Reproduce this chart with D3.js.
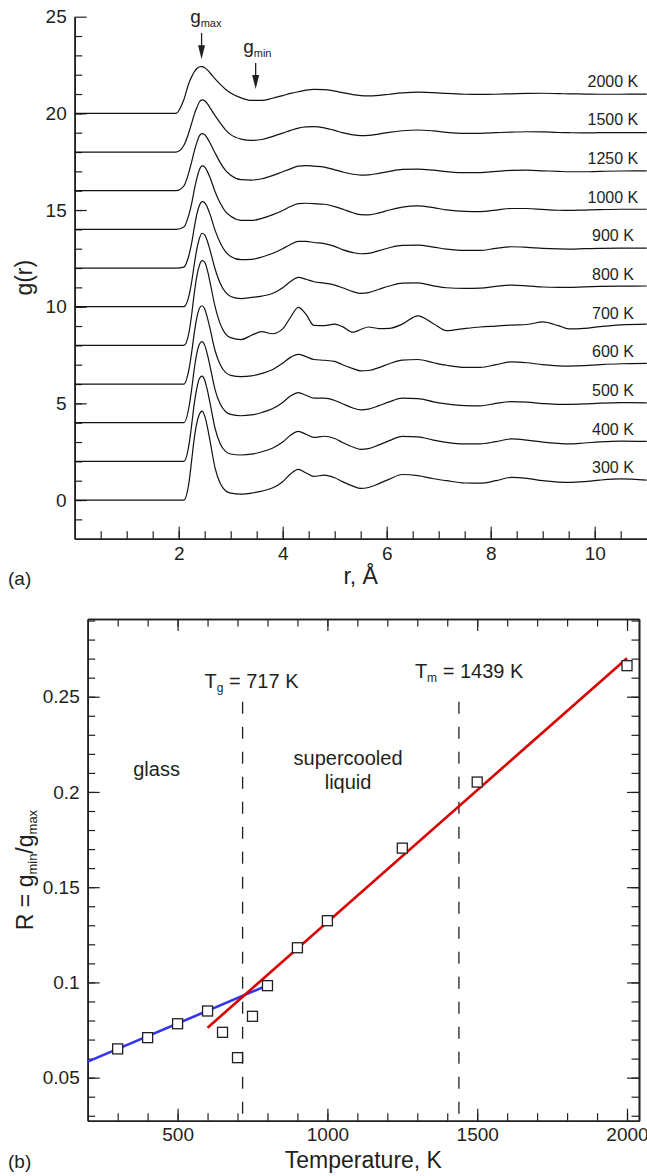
<!DOCTYPE html>
<html>
<head>
<meta charset="utf-8">
<script src="https://cdn.jsdelivr.net/npm/d3@7"></script>
<style>
  body { margin: 0; background: #fff; }
  svg { display: block; font-family: "Liberation Sans", Arial, sans-serif; }
  .axis path, .axis line { stroke: #231f20; }
  .axis path { stroke-width: 1.6; }
  .axis line { stroke-width: 1.2; }
  .axis text { fill: #231f20; font-size: 19px; font-family: "Liberation Sans", Arial, sans-serif; }
</style>
</head>
<body>
<svg id="chart" width="647" height="1176"></svg>
<script>
// ---- panel (a): g(r) curves, each shifted up by 2 ----
const rGrid = [0, 1.95, 2.1, 2.2, 2.25, 2.3, 2.35, 2.4, 2.45, 2.5,
    2.55, 2.6, 2.7, 2.8, 2.9, 3.0, 3.2, 3.4, 3.6, 3.8,
    4.0, 4.15, 4.3, 4.45, 4.6, 4.8, 5.0, 5.15, 5.35, 5.5,
    5.65, 5.85, 6.05, 6.3, 6.6, 6.9, 7.15, 7.5, 7.8, 8.1,
    8.4, 8.7, 9.0, 9.3, 9.5, 9.8, 10.1, 10.5, 11.0];

const g300 = [0, 0, 0, 0.95, 2.07, 3.2, 4.0, 4.45, 4.6, 4.35,
    3.8, 3.1, 1.65, 0.85, 0.48, 0.36, 0.31, 0.36, 0.46, 0.62,
    0.95, 1.35, 1.59, 1.4, 1.22, 1.29, 1.15, 0.95, 0.72, 0.6,
    0.65, 0.85, 1.08, 1.32, 1.26, 1.1, 1.0, 0.88, 0.87, 1.0,
    1.17, 1.12, 1.0, 0.93, 0.91, 0.95, 1.03, 1.09, 1.03];
const g400 = [0, 0, 0, 0.9, 1.9, 3.0, 3.8, 4.3, 4.41, 4.2,
    3.7, 3.05, 1.7, 0.9, 0.52, 0.38, 0.33, 0.37, 0.5, 0.68,
    1.0, 1.35, 1.55, 1.4, 1.24, 1.3, 1.18, 0.98, 0.74, 0.62,
    0.66, 0.85, 1.07, 1.29, 1.27, 1.1, 0.98, 0.9, 0.9, 1.02,
    1.16, 1.1, 1.0, 0.93, 0.9, 0.95, 1.01, 1.05, 1.03];
const g500 = [0, 0, 0, 0.85, 1.75, 2.8, 3.6, 4.07, 4.19, 4.0,
    3.55, 2.95, 1.7, 0.95, 0.58, 0.43, 0.36, 0.4, 0.53, 0.72,
    1.05, 1.38, 1.56, 1.42, 1.27, 1.27, 1.15, 0.98, 0.76, 0.66,
    0.7, 0.88, 1.08, 1.27, 1.25, 1.08, 0.97, 0.88, 0.87, 1.0,
    1.09, 1.06, 0.99, 0.95, 0.95, 0.97, 1.01, 1.04, 1.03];
const g600 = [0, 0, 0, 0.8, 1.65, 2.65, 3.45, 3.92, 4.05, 3.88,
    3.45, 2.9, 1.72, 1.0, 0.6, 0.45, 0.38, 0.42, 0.55, 0.74,
    1.08, 1.38, 1.53, 1.42, 1.27, 1.23, 1.17, 1.0, 0.8, 0.68,
    0.7, 0.85, 1.05, 1.24, 1.27, 1.1, 0.97, 0.86, 0.86, 1.0,
    1.15, 1.1, 1.0, 0.94, 0.93, 0.95, 1.0, 1.05, 1.07];
const g700 = [0, 0, 0, 0.7, 1.6, 2.7, 3.6, 4.15, 4.38, 4.3,
    3.9, 3.3, 2.0, 1.1, 0.6, 0.4, 0.3, 0.52, 0.71, 0.6,
    0.85, 1.45, 1.97, 1.6, 1.03, 1.02, 1.1, 0.97, 0.68, 0.82,
    0.95, 0.87, 0.88, 1.1, 1.53, 1.12, 0.76, 0.87, 0.95, 1.0,
    1.05, 1.08, 1.21, 1.02, 0.85, 0.88, 0.97, 1.06, 1.1];
const g800 = [0, 0, 0, 0.6, 1.3, 2.2, 3.0, 3.55, 3.8, 3.72,
    3.4, 2.95, 1.95, 1.2, 0.75, 0.53, 0.42, 0.48, 0.55, 0.68,
    0.98, 1.3, 1.52, 1.42, 1.29, 1.22, 1.12, 0.98, 0.78, 0.69,
    0.73, 0.9, 1.07, 1.22, 1.23, 1.08, 0.98, 0.95, 0.96, 1.05,
    1.12, 1.08, 1.02, 1.0, 1.0, 1.03, 1.05, 1.06, 1.07];
const g900 = [0, 0, 0.05, 0.7, 1.3, 2.1, 2.8, 3.25, 3.43, 3.38,
    3.15, 2.8, 1.95, 1.3, 0.85, 0.6, 0.43, 0.45, 0.57, 0.75,
    1.0, 1.22, 1.38, 1.38, 1.32, 1.26, 1.12, 0.95, 0.8, 0.74,
    0.76, 0.9, 1.05, 1.17, 1.18, 1.08, 0.98, 0.91, 0.91, 1.02,
    1.1, 1.07, 1.02, 0.99, 0.98, 1.0, 1.02, 1.03, 1.03];
const g1000 = [0, 0, 0.12, 0.8, 1.35, 2.05, 2.65, 3.1, 3.28, 3.22,
    3.0, 2.7, 1.95, 1.35, 0.92, 0.68, 0.47, 0.46, 0.57, 0.75,
    0.98, 1.18, 1.33, 1.35, 1.33, 1.3, 1.18, 1.05, 0.86, 0.76,
    0.75, 0.85, 1.0, 1.15, 1.21, 1.12, 1.01, 0.93, 0.92, 1.0,
    1.08, 1.08, 1.03, 0.99, 0.98, 1.0, 1.02, 1.04, 1.04];
const g1250 = [0, 0, 0.25, 1.0, 1.5, 2.05, 2.5, 2.85, 2.95, 2.9,
    2.72, 2.48, 1.95, 1.45, 1.05, 0.8, 0.57, 0.55, 0.62, 0.78,
    0.98, 1.13, 1.27, 1.3, 1.27, 1.22, 1.08, 0.97, 0.85, 0.81,
    0.82, 0.9, 1.0, 1.1, 1.12, 1.06, 0.99, 0.93, 0.94, 1.0,
    1.05, 1.06, 1.03, 1.0, 0.98, 0.98, 1.0, 1.02, 1.03];
const g1500 = [0, 0, 0.35, 1.05, 1.5, 1.95, 2.3, 2.6, 2.7, 2.65,
    2.5, 2.3, 1.88, 1.5, 1.15, 0.9, 0.67, 0.6, 0.65, 0.8,
    0.98, 1.12, 1.24, 1.3, 1.31, 1.25, 1.12, 1.0, 0.89, 0.85,
    0.86, 0.93, 1.02, 1.1, 1.14, 1.09, 1.02, 0.97, 0.97, 1.0,
    1.03, 1.05, 1.04, 1.01, 1.0, 0.99, 1.0, 1.0, 1.0];
const g2000 = [0, 0, 0.72, 1.6, 1.9, 2.15, 2.32, 2.41, 2.42, 2.36,
    2.25, 2.1, 1.78, 1.5, 1.25, 1.05, 0.8, 0.67, 0.67, 0.78,
    0.92, 1.03, 1.12, 1.2, 1.24, 1.23, 1.15, 1.07, 0.97, 0.92,
    0.9, 0.93, 0.99, 1.06, 1.1, 1.07, 1.03, 0.99, 0.98, 0.99,
    1.01, 1.03, 1.04, 1.02, 1.01, 1.0, 0.99, 0.99, 1.0];

const curveTemps = [300, 400, 500, 600, 700, 800, 900, 1000, 1250, 1500, 2000];
const curveValues = [g300, g400, g500, g600, g700, g800, g900, g1000, g1250, g1500, g2000];
const curveShift = 2;

const rMajor = [2, 4, 6, 8, 10];
const gMajor = [0, 5, 10, 15, 20, 25];

// ---- panel (b): R = gmin/gmax vs temperature ----
const tempPts = [300, 400, 500, 600, 650, 700, 750, 800, 900, 1000, 1250, 1500, 2000];
const ratioPts = [0.0651, 0.0710, 0.0783, 0.0850, 0.0738, 0.0605, 0.0822, 0.0983, 0.1182, 0.1324, 0.1705, 0.2052, 0.2663];
const glassFitT = [200, 790];
const glassFitR = [0.0584, 0.0978];
const liquidFitT = [600, 2000];
const liquidFitR = [0.0762, 0.2702];
const tG = 717, tM = 1439;
const tMajor = [500, 1000, 1500, 2000];
const rMajorB = [0.05, 0.1, 0.15, 0.2, 0.25];

const ink = '#231f20';
let svg = d3.select('#chart');

// axis with minor + major inward ticks
const tickAxis = function(gen, scale, pos, minorVals, majorVals, pad, labels){
    let minor = gen(scale).tickValues(minorVals).tickSize(-7.5).tickSizeOuter(0).tickFormat('');
    let major = gen(scale).tickValues(majorVals).tickSize(-12).tickSizeOuter(0).tickPadding(pad)
        .tickFormat(labels ? function(d){ return d } : '');
    svg.append('g').attr('class', 'axis').attr('transform', pos).call(minor);
    svg.append('g').attr('class', 'axis').attr('transform', pos).call(major);
};

// ===== panel (a) =====
var xR = d3.scaleLinear().domain([0, 11]).range([74.7, 646.7]);
var yG = d3.scaleLinear().domain([-2, 25]).range([538.7, 16.7]);

tickAxis(d3.axisLeft, yG, 'translate(74.7,0)', d3.range(-1, 25, 1), gMajor, 8, true);
tickAxis(d3.axisBottom, xR, 'translate(0,538.7)', d3.range(0.5, 11, 0.5), rMajor, 8, true);

curveValues.forEach(function(vals, i){
    let shift = i * curveShift;
    let pts = rGrid.map(function(r, j){ return {r: r, g: vals[j] + shift} });
    let line = d3.line()
        .x(function(d){ return xR(d.r) })
        .y(function(d){ return yG(d.g) })
        .curve(d3.curveMonotoneX);
    svg.append('path')
        .datum(pts)
        .attr('d', line)
        .attr('fill', 'none')
        .attr('stroke', '#111')
        .attr('stroke-width', 1.2);
    svg.append('text')
        .attr('x', xR(10.35))
        .attr('y', yG(shift + 1.67))
        .attr('dy', '0.35em')
        .attr('text-anchor', 'middle')
        .style('font-size', '16px')
        .attr('fill', ink)
        .text(curveTemps[i] + ' K');
});

// gmax / gmin arrows
const arrow = function(r, yTop, yTip){
    let x = xR(r), y0 = yG(yTop), y1 = yG(yTip);
    svg.append('line').attr('x1', x).attr('x2', x).attr('y1', y0).attr('y2', y1 - 12)
        .attr('stroke', ink).attr('stroke-width', 1.3);
    svg.append('path')
        .attr('d', 'M' + (x - 3.5) + ',' + (y1 - 14) + 'L' + (x + 3.5) + ',' + (y1 - 14) + 'L' + x + ',' + y1 + 'Z')
        .attr('fill', ink);
};
arrow(2.44, 24.16, 22.8);
arrow(3.48, 22.6, 21.26);

const subLabel = function(x, y, main, sub, size, subSize){
    let t = svg.append('text').attr('x', x).attr('y', y).attr('fill', ink).style('font-size', size + 'px');
    t.append('tspan').text(main);
    t.append('tspan').attr('dy', 4).style('font-size', subSize + 'px').text(sub);
    return t;
};
subLabel(xR(2.22), yG(24.68), 'g', 'max', 19, 11);
subLabel(xR(3.24), yG(23.12), 'g', 'min', 19, 11);

svg.append('text').attr('transform', 'translate(32,' + yG(11.5) + ') rotate(-90)')
    .attr('text-anchor', 'middle').style('font-size', '23px').attr('fill', ink).text('g(r)');
svg.append('text').attr('x', xR(5.5)).attr('y', 584)
    .attr('text-anchor', 'middle').style('font-size', '23px').attr('fill', ink).text('r, Å');
svg.append('text').attr('x', 8).attr('y', 585).style('font-size', '19px').attr('fill', ink).text('(a)');

// ===== panel (b) =====
var xT = d3.scaleLinear().domain([200, 2040]).range([87.7, 639]);
var yR = d3.scaleLinear().domain([0.0274, 0.2908]).range([1120.7, 619]);

let tMinor = d3.range(300, 2001, 100);
let rMinor = d3.range(3, 30).map(function(d){ return d / 100 });
tickAxis(d3.axisBottom, xT, 'translate(0,1120.7)', tMinor, tMajor, 7, true);
tickAxis(d3.axisTop, xT, 'translate(0,619)', tMinor, tMajor, 7, false);
tickAxis(d3.axisLeft, yR, 'translate(87.7,0)', rMinor, rMajorB, 8, true);
tickAxis(d3.axisRight, yR, 'translate(639,0)', rMinor, rMajorB, 8, false);

// Tg and Tm dashed markers
[tG, tM].forEach(function(t){
    svg.append('line')
        .attr('x1', xT(t)).attr('x2', xT(t))
        .attr('y1', yR(0.2474)).attr('y2', yR(0.0274))
        .attr('stroke', ink).attr('stroke-width', 1.3)
        .attr('stroke-dasharray', '12,13');
});

let fitLine = d3.line()
    .x(function(d){ return xT(d[0]) })
    .y(function(d){ return yR(d[1]) });
svg.append('path').datum(d3.zip(glassFitT, glassFitR)).attr('d', fitLine)
    .attr('fill', 'none').attr('stroke', '#3434f2').attr('stroke-width', 2.6);
svg.append('path').datum(d3.zip(liquidFitT, liquidFitR)).attr('d', fitLine)
    .attr('fill', 'none').attr('stroke', '#d90000').attr('stroke-width', 2.6);

svg.selectAll('.pt')
    .data(d3.zip(tempPts, ratioPts))
    .enter()
    .append('rect')
    .attr('class', 'pt')
    .attr('x', function(d){ return xT(d[0]) - 5 })
    .attr('y', function(d){ return yR(d[1]) - 5 })
    .attr('width', 10).attr('height', 10)
    .attr('fill', '#fff').attr('stroke', ink).attr('stroke-width', 1.3);

// text labels
let tgLab = subLabel(xT(590), yR(0.2546), 'T', 'g', 20, 12);
tgLab.append('tspan').attr('dy', -4).text(' = 717 K');
let tmLab = subLabel(xT(1292), yR(0.2598), 'T', 'm', 20, 12);
tmLab.append('tspan').attr('dy', -4).text(' = 1439 K');

svg.append('text').attr('x', xT(430)).attr('y', yR(0.2086)).attr('text-anchor', 'middle')
    .style('font-size', '20px').attr('fill', ink).text('glass');
svg.append('text').attr('x', xT(1069)).attr('y', yR(0.2143)).attr('text-anchor', 'middle')
    .style('font-size', '20px').attr('fill', ink).text('supercooled');
svg.append('text').attr('x', xT(1069)).attr('y', yR(0.2017)).attr('text-anchor', 'middle')
    .style('font-size', '20px').attr('fill', ink).text('liquid');

let yl = svg.append('text').attr('transform', 'translate(33,' + yR(0.159) + ') rotate(-90)')
    .attr('text-anchor', 'middle').style('font-size', '23px').attr('fill', ink);
yl.append('tspan').text('R = g');
yl.append('tspan').attr('dy', 4).style('font-size', '13px').text('min');
yl.append('tspan').attr('dy', -4).text('/g');
yl.append('tspan').attr('dy', 4).style('font-size', '13px').text('max');

svg.append('text').attr('x', xT(1120)).attr('y', 1168).attr('text-anchor', 'middle')
    .style('font-size', '23px').attr('fill', ink).text('Temperature, K');
svg.append('text').attr('x', 8).attr('y', 1168).style('font-size', '19px').attr('fill', ink).text('(b)');
</script>
</body>
</html>
